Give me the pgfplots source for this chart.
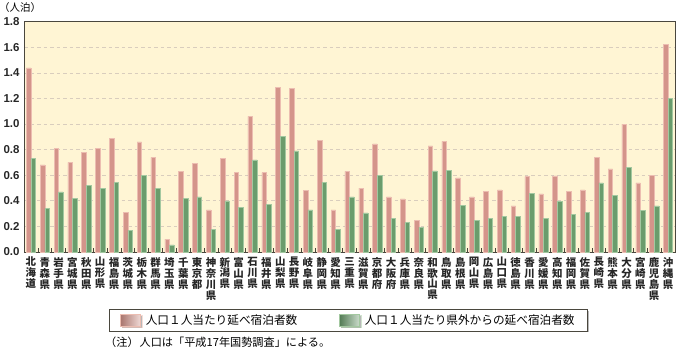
\documentclass[border=0pt]{standalone}
\usepackage{fontspec}
\setmainfont{Liberation Sans}
\newfontfamily\jp{Noto Sans CJK JP}
\usepackage{pgfplots}
\pgfplotsset{compat=1.18}
\usepackage{pgfplotstable}
\usetikzlibrary{shadows}
\definecolor{bg}{HTML}{FFF5D4}
\definecolor{redbar}{HTML}{D4948A}
\definecolor{rededge}{HTML}{ECBDB1}
\definecolor{greenbar}{HTML}{6A9C6C}
\definecolor{greenedge}{HTML}{A3C8A0}
\definecolor{gridc}{HTML}{D9CDBD}
\definecolor{framec}{HTML}{4A473E}

\pgfplotstableread{
x total outside
0 1.44 0.73
1 0.68 0.34
2 0.81 0.47
3 0.70 0.42
4 0.78 0.52
5 0.81 0.50
6 0.89 0.545
7 0.31 0.17
8 0.86 0.60
9 0.74 0.50
10 0.10 0.055
11 0.63 0.42
12 0.695 0.43
13 0.33 0.175
14 0.73 0.40
15 0.62 0.35
16 1.06 0.72
17 0.62 0.37
18 1.285 0.905
19 1.28 0.79
20 0.48 0.33
21 0.875 0.545
22 0.33 0.175
23 0.63 0.43
24 0.50 0.305
25 0.845 0.60
26 0.43 0.265
27 0.415 0.23
28 0.25 0.195
29 0.83 0.635
30 0.865 0.64
31 0.58 0.365
32 0.43 0.25
33 0.475 0.265
34 0.485 0.28
35 0.36 0.28
36 0.59 0.46
37 0.455 0.265
38 0.595 0.395
39 0.475 0.295
40 0.485 0.31
41 0.74 0.54
42 0.65 0.445
43 1.00 0.66
44 0.54 0.325
45 0.60 0.36
46 1.625 1.20
}\datatable

\begin{document}
\begin{tikzpicture}
\begin{axis}[
  scale only axis, width=651bp, height=230.3bp,
  xmin=-0.5, xmax=46.5, ymin=0, ymax=1.8,
  axis background/.style={fill=bg},
  axis line style={framec, line width=0.8bp},
  ytick={0,0.2,0.4,0.6,0.8,1.0,1.2,1.4,1.6,1.8},
  /pgf/number format/.cd, fixed, fixed zerofill, precision=1, assume math mode=true, /pgfplots/.cd,
  yticklabel style={font=\fontsize{11.5}{12}\selectfont\bfseries, color=black!85, xshift=-1bp},
  ytick style={draw=none},
  xtick={0,...,46},
  major x tick style={draw=none},
  minor xtick={-0.5,0.5,...,46.5},
  minor x tick style={draw=framec, line width=0.7bp},
  minor tick length=4bp,
  tick pos=left,
  ymajorgrids,
  major grid style={gridc, dash pattern=on 3.5bp off 3bp, line width=0.7bp},
  xticklabel style={align=center, anchor=north, inner sep=0pt, yshift=-5bp,
    font=\jp\bfseries\fontsize{10.5}{11}\selectfont, color=black!85},
  xticklabels={{北\\海\\道},{青\\森\\県},{岩\\手\\県},{宮\\城\\県},{秋\\田\\県},{山\\形\\県},{福\\島\\県},{茨\\城\\県},{栃\\木\\県},{群\\馬\\県},{埼\\玉\\県},{千\\葉\\県},{東\\京\\都},{神\\奈\\川\\県},{新\\潟\\県},{富\\山\\県},{石\\川\\県},{福\\井\\県},{山\\梨\\県},{長\\野\\県},{岐\\阜\\県},{静\\岡\\県},{愛\\知\\県},{三\\重\\県},{滋\\賀\\県},{京\\都\\府},{大\\阪\\府},{兵\\庫\\県},{奈\\良\\県},{和\\歌\\山\\県},{鳥\\取\\県},{島\\根\\県},{岡\\山\\県},{広\\島\\県},{山\\口\\県},{徳\\島\\県},{香\\川\\県},{愛\\媛\\県},{高\\知\\県},{福\\岡\\県},{佐\\賀\\県},{長\\崎\\県},{熊\\本\\県},{大\\分\\県},{宮\\崎\\県},{鹿\\児\\島\\県},{沖\\縄\\県}},
  legend columns=2,
  legend style={at={(0.1306,-0.2475)}, anchor=north west,
    draw=framec, line width=0.6bp, fill=white,
    drop shadow={shadow xshift=1.5bp, shadow yshift=-1.5bp, fill=black!55},
    inner xsep=11bp, inner ysep=3.2bp,
    font=\jp\fontsize{11.7}{13}\selectfont,
    /tikz/every odd column/.append style={column sep=3bp},
    /tikz/every even column/.append style={column sep=40bp}},
]
\addplot[ybar, bar width=4.6bp, bar shift=-2.3bp, fill=redbar, draw=rededge, line width=0.5bp,
  legend image code/.code={\shade[left color=redbar!80!black, middle color=redbar, right color=redbar!35!white] (0bp,-6bp) rectangle (20bp,6bp);}]
  table[x=x, y=total]{\datatable};
\addlegendentry{人口１人当たり延べ宿泊者数}
\addplot[ybar, bar width=4.6bp, bar shift=2.3bp, fill=greenbar, draw=greenedge, line width=0.5bp,
  legend image code/.code={\shade[left color=greenbar!80!black, middle color=greenbar, right color=greenbar!35!white] (0bp,-6bp) rectangle (20bp,6bp);}]
  table[x=x, y=outside]{\datatable};
\addlegendentry{人口１人当たり県外からの延べ宿泊者数}
\coordinate (bl) at (rel axis cs:0,0);
\coordinate (tl) at (rel axis cs:0,1);
\end{axis}
\node[anchor=west, inner sep=0pt, font=\jp\fontsize{10.5}{12}\selectfont] at ([xshift=-25bp, yshift=14bp]tl) {（人泊）};
\node[anchor=west, inner sep=0pt, font=\jp\fontsize{11.2}{12}\selectfont] at ([xshift=81bp, yshift=-90bp]bl) {（注）\kern1bp 人口は「平成17年国勢調査」による。};
\pgfresetboundingbox
\path ([shift={(-24bp,-99bp)}]bl) rectangle ([shift={(652bp,252bp)}]bl);
\end{tikzpicture}
\end{document}
